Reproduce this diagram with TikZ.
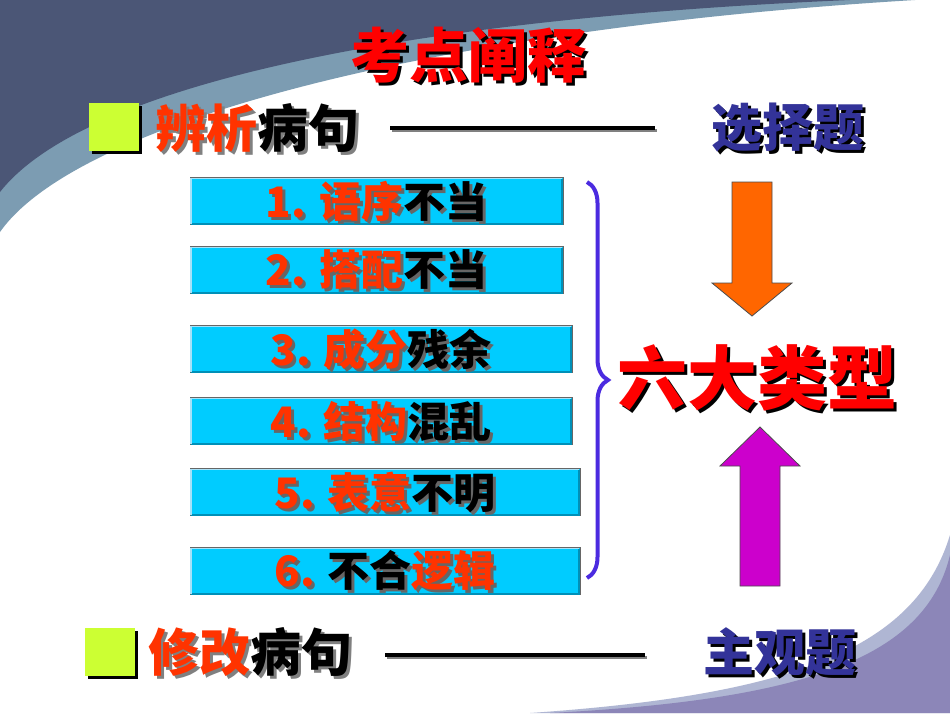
\documentclass[tikz,border=0pt]{standalone}
\usepackage{fontspec}
\newfontfamily\cjk{Noto Sans CJK SC}
\usetikzlibrary{decorations.pathreplacing}

\definecolor{slate}{HTML}{4B5676}
\definecolor{steel}{HTML}{7C9CB2}
\definecolor{lavender}{HTML}{8C86B8}
\definecolor{mist}{HTML}{AFB6D3}
\definecolor{titlered}{HTML}{FF0000}
\definecolor{orangered}{HTML}{FF3300}
\definecolor{navy}{HTML}{333399}
\definecolor{lime}{HTML}{CCFF33}
\definecolor{cyanbox}{HTML}{00CCFF}
\definecolor{cyandark}{HTML}{0090B8}
\definecolor{bracecol}{HTML}{4B2BE0}
\definecolor{downcol}{HTML}{FF6600}
\definecolor{upcol}{HTML}{CC00CC}
\colorlet{hlc}{orangered}

\newcommand{\hl}[1]{{\color{hlc}#1}}
% shadow colour, name, position, style, text
\newcommand{\shadowed}[5][black]{%
  \node[#4, text=#1, xshift=3pt, yshift=-3pt] at (#3) {\colorlet{hlc}{#1}#5};
  \node[#4] (#2) at (#3) {#5};}

\tikzset{
  every node/.style={inner sep=0pt, outer sep=0pt},
  title/.style={font=\cjk\bfseries\fontsize{59}{60}\selectfont, text=titlered},
  topic/.style={font=\cjk\bfseries\fontsize{51}{52}\selectfont, text=black, anchor=west},
  kind/.style={font=\cjk\bfseries\fontsize{51}{52}\selectfont, text=navy},
  errbox/.style={fill=cyanbox, draw=black!60, line width=0.6pt, minimum height=47pt},
  errtext/.style={font=\cjk\bfseries\fontsize{42}{44}\selectfont, text=black},
  bigsix/.style={font=\cjk\bfseries\fontsize{70}{72}\selectfont, text=titlered},
  marker/.style={fill=lime, minimum width=50pt, minimum height=48pt},
  dashline/.style={line width=4pt, black},
  blockarrow/.style={draw=black!70, line width=0.8pt, line join=miter},
}

\begin{document}
\begin{tikzpicture}[x=1pt, y=-1pt]
	\useasboundingbox (0,0) rectangle (950,713);
	\fill[white] (0,0) rectangle (950,713);

	% corners
	\fill[steel] (0,0) -- (0,232) .. controls (75,125) and (420,30) .. (915,0) -- cycle;
	\fill[slate] (0,0) -- (0,192) .. controls (80,90) and (380,20) .. (850,0) -- cycle;
	\fill[mist] (950,713) -- (950,535) .. controls (915,650) and (790,695) .. (530,713) -- cycle;
	\fill[lavender] (950,713) -- (950,555) .. controls (925,660) and (800,700) .. (550,713) -- cycle;

	% title
	\shadowed{title}{468,55}{title}{考点阐释}

	% first row
	\fill[black] (92,106) rectangle (142,154);
	\node[marker] (mark1) at (114,127) {};
	\shadowed[gray]{topic1}{155,128}{topic}{\hl{辨析}病句}
	\coordinate (l1a) at (390,128);
	\coordinate (l1b) at (655,128);
	\draw[dashline, gray, line width=3pt] ([shift={(2pt,-2pt)}]l1a) -- ([shift={(2pt,-2pt)}]l1b);
	\draw[dashline] (l1a) -- (l1b);
	\shadowed{choice}{788,128}{kind}{选择题}

	% six boxes
	\foreach \n/\cx/\cy/\w/\txt in {1/376.5/201/373/{\hl{1. 语序}不当},
	                                2/376.5/270/373/{\hl{2. 搭配}不当},
	                                3/381/349/382/{\hl{3. 成分}残余},
	                                4/381/421/382/{\hl{4. 结构}混乱},
	                                5/385/492/390/{\hl{5. 表意}不明},
	                                6/385/571/390/{\hl{6. }不合\hl{逻辑}}}{
		\node[errbox, minimum width=\w pt] (box\n) at (\cx,\cy) {};
		\draw[cyandark, line width=2pt] ([shift={(1pt,1pt)}]box\n.south west) -- ([shift={(-1pt,1pt)}]box\n.south east) -- ([shift={(-1pt,-1pt)}]box\n.north east);
		\draw[cyan!35!white, line width=1.5pt] ([shift={(1pt,1pt)}]box\n.south west) -- ([shift={(1pt,-1pt)}]box\n.north west) -- ([shift={(-1pt,-1pt)}]box\n.north east);
		\shadowed[black!60]{err\n}{box\n}{errtext}{\txt}
	}

	% brace and result
	\draw[bracecol, line width=4pt, decorate, decoration={brace, amplitude=21pt}] (587,182) -- (587,578);
	\shadowed{six}{757,378}{bigsix}{六大类型}

	% block arrows
	\filldraw[blockarrow, fill=downcol] (732,182) -- (772,182) -- (772,283) -- (792,283) -- (752,316) -- (712,283) -- (732,283) -- cycle;
	\filldraw[blockarrow, fill=upcol] (740,586) -- (780,586) -- (780,466) -- (800,466) -- (760,427) -- (720,466) -- (740,466) -- cycle;

	% second row
	\fill[black] (88,631) rectangle (138,679);
	\node[marker] (mark2) at (110,652) {};
	\shadowed[gray]{topic2}{148,652}{topic}{\hl{修改}病句}
	\coordinate (l2a) at (385,655);
	\coordinate (l2b) at (645,655);
	\draw[dashline, gray, line width=3pt] ([shift={(2pt,-2pt)}]l2a) -- ([shift={(2pt,-2pt)}]l2b);
	\draw[dashline] (l2a) -- (l2b);
	\shadowed{essay}{780,652}{kind}{主观题}
\end{tikzpicture}
\end{document}
